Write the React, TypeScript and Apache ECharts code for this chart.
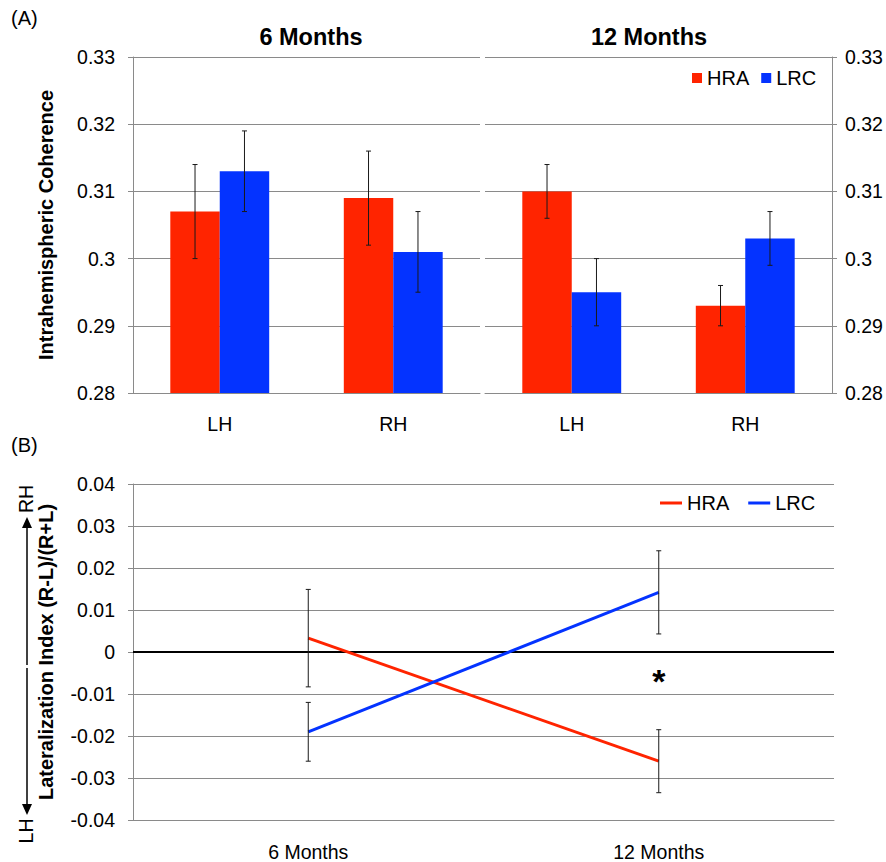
import React, { useEffect, useRef } from 'react';
import * as echarts from 'echarts';

// ---- Data ----
const barCategories = ['LH', 'RH'];
const hra6m = [0.307, 0.309];
const lrc6m = [0.313, 0.301];
const hra6mErr = [0.007, 0.007];
const lrc6mErr = [0.006, 0.006];
const hra12m = [0.31, 0.293];
const lrc12m = [0.295, 0.303];
const hra12mErr = [0.004, 0.003];
const lrc12mErr = [0.005, 0.004];
const coherenceRange = [0.28, 0.33];
const coherenceStep = 0.01;

const timeCategories = ['6 Months', '12 Months'];
const hraLI = [0.0033, -0.026];
const lrcLI = [-0.019, 0.0142];
const hraLIErr = [0.0116, 0.0075];
const lrcLIErr = [0.007, 0.0099];
const liRange = [-0.04, 0.04];
const liStep = 0.01;

const panelTitles = ['6 Months', '12 Months'];
const seriesNames = ['HRA', 'LRC'];

// ---- Styles ----
const FONT = 'Liberation Sans, Arial, Helvetica, sans-serif';
const RED = '#ff2400';
const BLUE = '#0433ff';
const GRID = '#8a8a8a';
const ERR = '#1a1a1a';
const BAR_FRAC = 0.285;
const CAP = 2.5;

function errSeries(xi: number, yi: number, vals: number[], errs: number[], sign: number) {
  return {
    type: 'custom',
    xAxisIndex: xi,
    yAxisIndex: yi,
    z: 5,
    silent: true,
    data: vals.map((v, i) => [i, v, errs[i]]),
    encode: { x: 0, y: 1 },
    renderItem: (params: any, api: any) => {
      const idx = api.value(0);
      const v = api.value(1);
      const e = api.value(2);
      const band = api.size([1, 0])[0];
      const off = (sign * band * BAR_FRAC) / 2;
      const p1 = api.coord([idx, v + e]);
      const p2 = api.coord([idx, v - e]);
      const x = p1[0] + off;
      const st = { stroke: ERR, lineWidth: 1 };
      return {
        type: 'group',
        children: [
          { type: 'line', shape: { x1: x, y1: p1[1], x2: x, y2: p2[1] }, style: st },
          { type: 'line', shape: { x1: x - CAP, y1: p1[1], x2: x + CAP, y2: p1[1] }, style: st },
          { type: 'line', shape: { x1: x - CAP, y1: p2[1], x2: x + CAP, y2: p2[1] }, style: st },
        ],
      };
    },
  };
}

const labelStyle = { fontSize: 19.5, color: '#000', fontFamily: FONT };

function catAxis(gridIndex: number, data: string[], margin: number) {
  return {
    gridIndex,
    type: 'category',
    data,
    axisLine: { show: true, onZero: false, lineStyle: { color: GRID, width: 1 } },
    axisTick: { show: false },
    axisLabel: { ...labelStyle, margin },
    splitLine: { show: false },
  };
}

function valAxis(gridIndex: number, range: number[], step: number, position: string, margin: number, name?: string) {
  return {
    gridIndex,
    type: 'value',
    min: range[0],
    max: range[1],
    interval: step,
    position,
    axisLine: { show: true, lineStyle: { color: GRID, width: 1 } },
    axisTick: { show: true, length: 5, inside: false, lineStyle: { color: GRID } },
    splitLine: { show: true, lineStyle: { color: GRID, width: 1 } },
    axisLabel: { ...labelStyle, margin },
    name: name || '',
    nameLocation: 'middle',
    nameGap: 77,
    nameTextStyle: { fontSize: 20, fontWeight: 'bold', color: '#000', fontFamily: FONT },
  };
}

export default function App() {
  const ref = useRef<HTMLDivElement>(null);
  useEffect(() => {
    if (!ref.current) return;
    const chart = echarts.init(ref.current, null, { renderer: 'svg' });
    const option: any = {
      animation: false,
      backgroundColor: '#fff',
      textStyle: { fontFamily: FONT },
      grid: [
        { left: 133, top: 57, width: 347, height: 336 },
        { left: 485, top: 57, width: 347, height: 336 },
        { left: 133, top: 484, width: 701, height: 336 },
      ],
      xAxis: [
        catAxis(0, barCategories, 21),
        catAxis(1, barCategories, 21),
        catAxis(2, timeCategories, 22),
      ],
      yAxis: [
        valAxis(0, coherenceRange, coherenceStep, 'left', 18, 'Intrahemispheric Coherence'),
        valAxis(1, coherenceRange, coherenceStep, 'right', 13),
        valAxis(2, liRange, liStep, 'left', 18, 'Lateralization Index (R-L)/(R+L)'),
      ],
      legend: [
        {
          data: seriesNames,
          left: 692,
          top: 68,
          icon: 'rect',
          itemWidth: 10,
          itemHeight: 10,
          itemGap: 12,
          padding: 0,
          selectedMode: false,
          textStyle: { fontSize: 20, color: '#000', fontFamily: FONT },
        },
        {
          data: seriesNames,
          left: 660,
          top: 493,
          icon: 'rect',
          itemWidth: 22,
          itemHeight: 3,
          itemGap: 19,
          padding: 0,
          selectedMode: false,
          textStyle: { fontSize: 20, color: '#000', fontFamily: FONT },
        },
      ],
      series: [
        { type: 'bar', name: seriesNames[0], xAxisIndex: 0, yAxisIndex: 0, data: hra6m, barWidth: BAR_FRAC * 100 + '%', barGap: '0%', itemStyle: { color: RED } },
        { type: 'bar', name: seriesNames[1], xAxisIndex: 0, yAxisIndex: 0, data: lrc6m, barWidth: BAR_FRAC * 100 + '%', barGap: '0%', itemStyle: { color: BLUE } },
        { type: 'bar', name: seriesNames[0], xAxisIndex: 1, yAxisIndex: 1, data: hra12m, barWidth: BAR_FRAC * 100 + '%', barGap: '0%', itemStyle: { color: RED } },
        { type: 'bar', name: seriesNames[1], xAxisIndex: 1, yAxisIndex: 1, data: lrc12m, barWidth: BAR_FRAC * 100 + '%', barGap: '0%', itemStyle: { color: BLUE } },
        errSeries(0, 0, hra6m, hra6mErr, -1),
        errSeries(0, 0, lrc6m, lrc6mErr, 1),
        errSeries(1, 1, hra12m, hra12mErr, -1),
        errSeries(1, 1, lrc12m, lrc12mErr, 1),
        {
          type: 'line',
          name: seriesNames[0],
          xAxisIndex: 2,
          yAxisIndex: 2,
          data: hraLI,
          symbol: 'none',
          z: 4,
          itemStyle: { color: RED },
          lineStyle: { color: RED, width: 3 },
          markLine: {
            silent: true,
            symbol: ['none', 'none'],
            label: { show: false },
            lineStyle: { color: '#000', width: 2, type: 'solid' },
            data: [{ yAxis: 0 }],
            z: 3,
          },
        },
        {
          type: 'line',
          name: seriesNames[1],
          xAxisIndex: 2,
          yAxisIndex: 2,
          data: lrcLI,
          symbol: 'none',
          z: 4,
          itemStyle: { color: BLUE },
          lineStyle: { color: BLUE, width: 3 },
          markPoint: {
            silent: true,
            symbol: 'circle',
            symbolSize: 1,
            itemStyle: { color: 'rgba(0,0,0,0)' },
            label: { show: true, position: 'inside', formatter: '*', fontSize: 34, fontWeight: 'bold', color: '#000', fontFamily: FONT },
            data: [{ coord: [1, -0.0069] }],
          },
        },
        errSeries(2, 2, hraLI, hraLIErr, 0),
        errSeries(2, 2, lrcLI, lrcLIErr, 0),
      ],
      graphic: [
        { type: 'text', left: 11, top: 8, style: { text: '(A)', fontSize: 20, fill: '#000', fontFamily: FONT } },
        { type: 'text', left: 11, top: 435, style: { text: '(B)', fontSize: 20, fill: '#000', fontFamily: FONT } },
        { type: 'text', x: 311, y: 37, style: { text: panelTitles[0], fontSize: 23.5, fontWeight: 'bold', fill: '#000', fontFamily: FONT, align: 'center', verticalAlign: 'middle' } },
        { type: 'text', x: 649, y: 37, style: { text: panelTitles[1], fontSize: 23.5, fontWeight: 'bold', fill: '#000', fontFamily: FONT, align: 'center', verticalAlign: 'middle' } },
        { type: 'line', shape: { x1: 27, y1: 527, x2: 27, y2: 665 }, style: { stroke: '#000', lineWidth: 1.5 } },
        { type: 'polygon', shape: { points: [[22, 528], [32, 528], [27, 517]] }, style: { fill: '#000' } },
        { type: 'line', shape: { x1: 27, y1: 668, x2: 27, y2: 805 }, style: { stroke: '#000', lineWidth: 1.5 } },
        { type: 'polygon', shape: { points: [[22, 804], [32, 804], [27, 815]] }, style: { fill: '#000' } },
        { type: 'text', x: 26, y: 499, rotation: Math.PI / 2, style: { text: 'RH', fontSize: 19.5, fill: '#000', fontFamily: FONT, align: 'center', verticalAlign: 'middle' } },
        { type: 'text', x: 26, y: 831, rotation: Math.PI / 2, style: { text: 'LH', fontSize: 19.5, fill: '#000', fontFamily: FONT, align: 'center', verticalAlign: 'middle' } },
      ],
    };
    chart.setOption(option);
    return () => chart.dispose();
  }, []);
  return <div ref={ref} style={{ position: 'absolute', left: 0, top: 0, width: 886, height: 862 }} />;
}
